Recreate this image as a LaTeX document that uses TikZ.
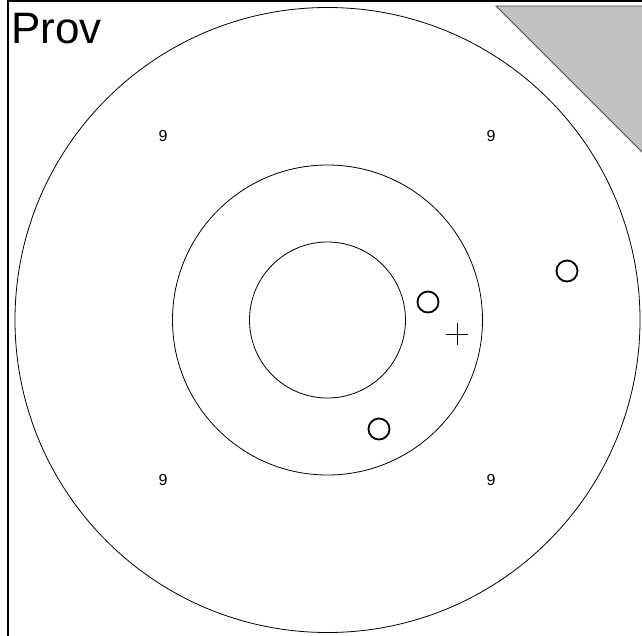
\documentclass[tikz,border=0pt]{standalone}
\usepackage{fontspec}
\setmainfont{Liberation Sans}
\definecolor{tri}{RGB}{192,192,192}
\begin{document}
\begin{tikzpicture}[x=1pt,y=-1pt,
  ring/.style={draw=black,line width=0.8pt},
  smallring/.style={circle,draw=black,line width=1.8pt,minimum size=21pt,inner sep=0pt},
  lbl/.style={font=\fontsize{16}{18}\selectfont,inner sep=0pt}]
\useasboundingbox (0,0) rectangle (642,635);
\fill[white] (0,0) rectangle (642,635);
\begin{scope}
\clip (0,0) rectangle (642,635);
\filldraw[fill=tri,draw=black!70,line width=0.8pt] (496,6) -- (660,6) -- (660,170) -- cycle;
\draw[line width=1.2pt] (8,700) -- (8,1) -- (700,1);
\end{scope}
\node[anchor=base west,inner sep=0pt,font=\fontsize{44}{50}\selectfont] (title) at (11,43) {Prov};
\coordinate (c) at (327.5,320);
\draw[ring] (c) circle[radius=312.5];
\draw[ring] (c) circle[radius=155];
\draw[ring] (c) circle[radius=78];
\node[lbl] (n1) at (163,136) {9};
\node[lbl] (n2) at (491,136) {9};
\node[lbl] (n3) at (163,480) {9};
\node[lbl] (n4) at (491,480) {9};
\node[smallring] (m1) at (428,302) {};
\node[smallring] (m2) at (567,271) {};
\node[smallring] (m3) at (379,429) {};
\coordinate (p) at (457,334);
\draw[line width=1pt] ([xshift=-11pt]p) -- ([xshift=11pt]p) ([yshift=-11pt]p) -- ([yshift=11pt]p);
\end{tikzpicture}
\end{document}
